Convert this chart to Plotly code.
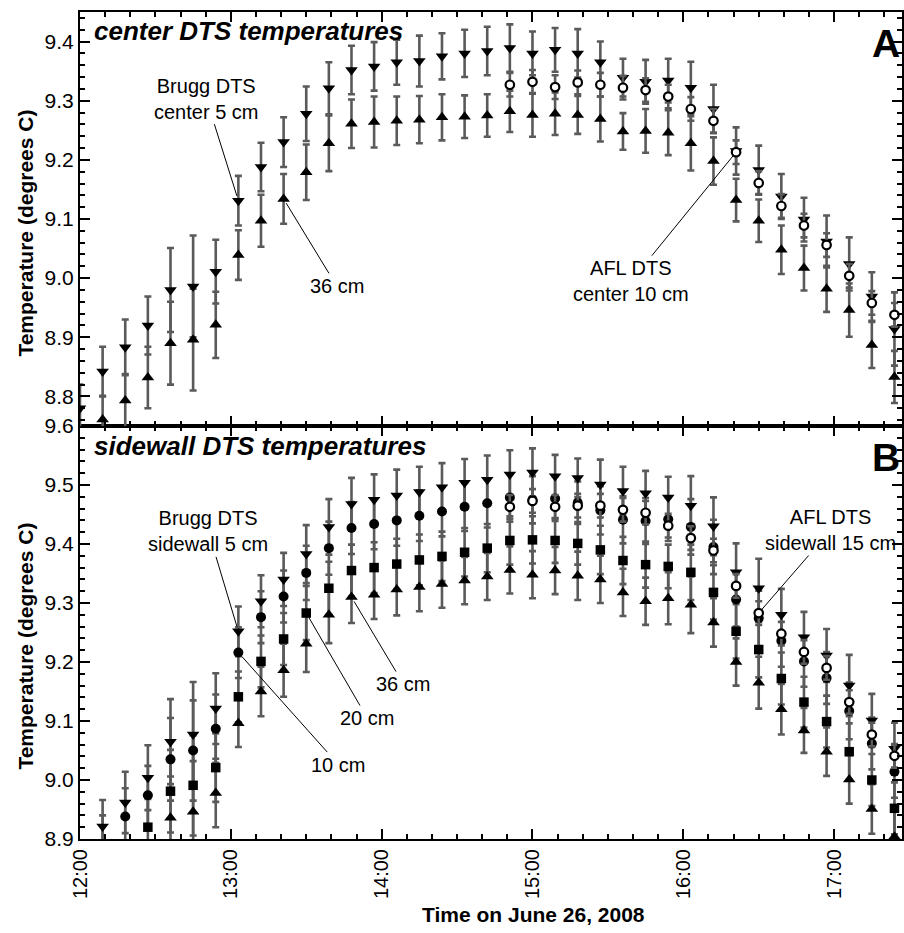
import plotly.graph_objects as go

times = ["12:00", "12:09", "12:18", "12:27", "12:36", "12:45", "12:54", "13:03", "13:12",
         "13:21", "13:30", "13:39", "13:48", "13:57", "14:06", "14:15", "14:24", "14:33",
         "14:42", "14:51", "15:00", "15:09", "15:18", "15:27", "15:36", "15:45", "15:54",
         "16:03", "16:12", "16:21", "16:30", "16:39", "16:48", "16:57", "17:06", "17:15", "17:24"]

# ---- Panel A: center DTS temperatures ----
center_5cm = [8.780, 8.842, 8.883, 8.920, 8.980, 8.986, 9.011, 9.131, 9.188, 9.230, 9.278, 9.321,
              9.352, 9.358, 9.365, 9.367, 9.375, 9.380, 9.384, 9.389, 9.380, 9.386, 9.380, 9.365,
              9.339, 9.332, 9.334, 9.322, 9.286, 9.215, 9.183, 9.138, 9.099, 9.062, 9.024, 8.969, 8.914]
center_5cm_err = [0.040, 0.042, 0.047, 0.049, 0.071, 0.086, 0.054, 0.042, 0.041, 0.042, 0.046, 0.044,
                  0.041, 0.041, 0.038, 0.043, 0.039, 0.040, 0.041, 0.040, 0.037, 0.037, 0.041, 0.035,
                  0.032, 0.037, 0.037, 0.044, 0.041, 0.040, 0.041, 0.038, 0.037, 0.044, 0.045, 0.041, 0.062]
center_36cm = [None, 8.761, 8.793, 8.832, 8.890, 8.896, 8.921, 9.039, 9.097, 9.134, 9.179, 9.228,
               9.261, 9.264, 9.266, 9.268, 9.272, 9.273, 9.275, 9.282, 9.276, 9.278, 9.276, 9.269,
               9.248, 9.249, 9.246, 9.228, 9.198, 9.132, 9.097, 9.048, 9.017, 8.982, 8.946, 8.887, 8.833]
center_36cm_err = [0.040, 0.040, 0.045, 0.052, 0.070, 0.086, 0.056, 0.042, 0.044, 0.042, 0.047, 0.047,
                   0.041, 0.043, 0.041, 0.040, 0.039, 0.036, 0.036, 0.035, 0.037, 0.036, 0.032, 0.038,
                   0.031, 0.037, 0.038, 0.046, 0.040, 0.036, 0.036, 0.041, 0.038, 0.039, 0.045, 0.039, 0.044]
afl_center_10cm = [None] * 19 + [9.327, 9.332, 9.323, 9.331, 9.327, 9.322, 9.318, 9.307, 9.286,
                                 9.266, 9.213, 9.161, 9.122, 9.089, 9.056, 9.004, 8.958, 8.938]

# ---- Panel B: sidewall DTS temperatures ----
side_5cm = [None, 8.921, 8.962, 9.004, 9.065, 9.077, 9.121, 9.252, 9.303, 9.340, 9.383, 9.429,
            9.468, 9.475, 9.482, 9.488, 9.496, 9.504, 9.509, 9.518, 9.521, 9.515, 9.512, 9.501,
            9.490, 9.486, 9.479, 9.465, 9.430, 9.352, 9.325, 9.280, 9.242, 9.211, 9.160, 9.101, 9.053]
side_5cm_err = [0.040, 0.045, 0.052, 0.055, 0.072, 0.089, 0.060, 0.042, 0.044, 0.045, 0.049, 0.047,
                0.044, 0.043, 0.044, 0.043, 0.041, 0.040, 0.041, 0.041, 0.041, 0.036, 0.033, 0.042,
                0.041, 0.038, 0.035, 0.050, 0.049, 0.049, 0.050, 0.044, 0.043, 0.045, 0.052, 0.045, 0.044]
side_10cm = [None, 8.890, 8.938, 8.974, 9.035, 9.050, 9.087, 9.216, 9.276, 9.311, 9.351, 9.393,
             9.427, 9.434, 9.440, 9.448, 9.455, 9.463, 9.469, 9.479, 9.475, 9.477, 9.470, 9.457,
             9.441, 9.439, 9.442, 9.429, 9.395, 9.306, 9.274, 9.236, 9.201, 9.173, 9.117, 9.062, 9.014]
side_10cm_err = [0.045, 0.050, 0.048, 0.050, 0.070, 0.085, 0.058, 0.043, 0.044, 0.044, 0.046, 0.045,
                 0.044, 0.043, 0.043, 0.043, 0.042, 0.041, 0.041, 0.041, 0.040, 0.038, 0.036, 0.041,
                 0.040, 0.039, 0.037, 0.047, 0.046, 0.046, 0.047, 0.044, 0.043, 0.044, 0.048, 0.044, 0.044]
side_20cm = [None, None, None, 8.920, 8.981, 8.991, 9.021, 9.141, 9.201, 9.239, 9.283, 9.325,
             9.355, 9.360, 9.366, 9.373, 9.379, 9.386, 9.393, 9.406, 9.407, 9.406, 9.401, 9.390,
             9.372, 9.365, 9.362, 9.352, 9.318, 9.252, 9.221, 9.172, 9.132, 9.099, 9.048, 9.000, 8.952]
side_20cm_err = [0.045, 0.050, 0.048, 0.048, 0.070, 0.085, 0.058, 0.043, 0.044, 0.044, 0.046, 0.045,
                 0.044, 0.043, 0.043, 0.043, 0.042, 0.041, 0.041, 0.041, 0.040, 0.038, 0.036, 0.041,
                 0.040, 0.039, 0.037, 0.047, 0.046, 0.046, 0.047, 0.044, 0.043, 0.044, 0.048, 0.044, 0.044]
side_36cm = [None, None, None, None, 8.936, 8.946, 8.978, 9.096, 9.150, 9.186, 9.231, 9.280,
             9.310, 9.314, 9.323, 9.327, 9.332, 9.338, 9.345, 9.356, 9.348, 9.355, 9.346, 9.340,
             9.318, 9.303, 9.308, 9.297, 9.267, 9.200, 9.165, 9.120, 9.084, 9.048, 9.001, 8.951, 8.904]
side_36cm_err = [0.045, 0.045, 0.045, 0.045, 0.070, 0.086, 0.058, 0.040, 0.042, 0.045, 0.048, 0.048,
                 0.044, 0.041, 0.044, 0.041, 0.040, 0.040, 0.040, 0.040, 0.040, 0.040, 0.041, 0.040,
                 0.040, 0.040, 0.044, 0.048, 0.041, 0.040, 0.044, 0.043, 0.038, 0.041, 0.041, 0.042, 0.045]
afl_side_15cm = [None] * 19 + [9.463, 9.473, 9.463, 9.465, 9.465, 9.458, 9.453, 9.431, 9.410,
                               9.389, 9.329, 9.283, 9.248, 9.217, 9.190, 9.132, 9.077, 9.041]
afl_err = 0.02

x = ["2008-06-26 " + t for t in times]

FONT = "Liberation Sans, Arial, Helvetica, sans-serif"
BAR = "rgb(90,90,90)"

fig = go.Figure()


def bars(y, err, xa, ya):
    if isinstance(err, (list, tuple)):
        ey = dict(type="data", array=err, color=BAR, thickness=2.6, width=3.5)
    else:
        ey = dict(type="constant", value=err, color=BAR, thickness=2.6, width=3.5)
    fig.add_trace(go.Scatter(
        x=x, y=y, mode="markers", xaxis=xa, yaxis=ya, showlegend=False,
        marker=dict(size=1, color="rgba(0,0,0,0)"), error_y=ey, hoverinfo="skip"))


def marks(y, symbol, size, xa, ya, fill="black", lw=0):
    fig.add_trace(go.Scatter(
        x=x, y=y, mode="markers", xaxis=xa, yaxis=ya, showlegend=False,
        marker=dict(symbol=symbol, size=size, color=fill,
                    line=dict(color="black", width=lw))))


# top panel: error bars first, then markers
bars(center_36cm, center_36cm_err, "x2", "y2")
bars(center_5cm, center_5cm_err, "x2", "y2")
marks(center_36cm, "triangle-up", 11, "x2", "y2")
marks(center_5cm, "triangle-down", 11, "x2", "y2")
bars(afl_center_10cm, afl_err, "x2", "y2")
marks(afl_center_10cm, "circle", 8.5, "x2", "y2", fill="white", lw=2.2)

# bottom panel
bars(side_36cm, side_36cm_err, "x", "y")
bars(side_20cm, side_20cm_err, "x", "y")
bars(side_10cm, side_10cm_err, "x", "y")
bars(side_5cm, side_5cm_err, "x", "y")
marks(side_36cm, "triangle-up", 11, "x", "y")
marks(side_20cm, "square", 9.5, "x", "y")
marks(side_10cm, "circle", 10, "x", "y")
marks(side_5cm, "triangle-down", 11, "x", "y")
bars(afl_side_15cm, afl_err, "x", "y")
marks(afl_side_15cm, "circle", 8.5, "x", "y", fill="white", lw=2.2)

xcommon = dict(
    type="date", range=["2008-06-26 12:00", "2008-06-26 17:27"],
    tick0="2008-06-26 12:00", dtick=3600000, tickformat="%H:%M", tickangle=-90,
    ticks="inside", ticklen=10, tickwidth=1.5, tickcolor="black",
    showline=True, linewidth=2, linecolor="black", mirror="ticks",
    showgrid=False, zeroline=False,
    minor=dict(ticks="inside", ticklen=5, tickwidth=1.5, tickcolor="black",
               tick0="2008-06-26 12:00", dtick=600000, showgrid=False),
    tickfont=dict(family=FONT, size=20, color="black"),
)
ycommon = dict(
    dtick=0.1, tickformat=".1f",
    ticks="inside", ticklen=10, tickwidth=1.5, tickcolor="black",
    showline=True, linewidth=2, linecolor="black", mirror="ticks",
    showgrid=False, zeroline=False,
    minor=dict(ticks="inside", ticklen=5, tickwidth=1.5, tickcolor="black",
               dtick=0.02, showgrid=False),
    tickfont=dict(family=FONT, size=21, color="black"),
)
split = 414 / 829

fig.update_layout(
    width=904, height=933,
    margin=dict(l=80, r=0, t=10, b=94),
    paper_bgcolor="white", plot_bgcolor="white",
    xaxis=dict(xcommon, domain=[0, 1], anchor="y"),
    xaxis2=dict(xcommon, domain=[0, 1], anchor="y2", matches="x", showticklabels=False),
    yaxis=dict(ycommon, domain=[0, split], anchor="x", range=[8.9, 9.6], tick0=8.9),
    yaxis2=dict(ycommon, domain=[split, 1], anchor="x2", range=[8.75, 9.45], tick0=8.8),
    font=dict(family=FONT, color="black"),
)

ann = []
LAB = dict(family=FONT, size=20, color="black")


def pointer(text, xi, yv, ax, ay, xr, yr):
    ann.append(dict(text=text, x=x[xi], y=yv, xref=xr, yref=yr, ax=ax, ay=ay,
                    showarrow=True, arrowhead=0, arrowwidth=1, arrowcolor="black",
                    standoff=5, font=LAB, align="center"))


pointer("Brugg DTS<br>center 5 cm", 7, center_5cm[7], -32, -102, "x2", "y2")
pointer("36 cm", 9, center_36cm[9], 53, 87, "x2", "y2")
pointer("AFL DTS<br>center 10 cm", 29, afl_center_10cm[29], -105, 129, "x2", "y2")
pointer("Brugg DTS<br>sidewall 5 cm", 7, side_5cm[7], -30, -100, "x", "y")
pointer("10 cm", 7, side_10cm[7], 100, 112, "x", "y")
pointer("20 cm", 10, side_20cm[10], 61, 105, "x", "y")
pointer("36 cm", 12, side_36cm[12], 52, 87, "x", "y")
pointer("AFL DTS<br>sidewall 15 cm", 30, afl_side_15cm[30], 72, -83, "x", "y")


def py(pix):
    return (839 - pix) / 829


def px(pix):
    return (pix - 80) / 824


TITLE = dict(family=FONT, size=26, color="black")
ann.append(dict(text="<b><i>center DTS temperatures</i></b>", x=px(92), y=py(29), xref="paper",
                yref="paper", xanchor="left", yanchor="middle", showarrow=False, font=TITLE))
ann.append(dict(text="<b><i>sidewall DTS temperatures</i></b>", x=px(92), y=py(445), xref="paper",
                yref="paper", xanchor="left", yanchor="middle", showarrow=False, font=TITLE))
BIG = dict(family=FONT, size=39, color="black")
ann.append(dict(text="<b>A</b>", x=1, y=py(42), xref="paper", yref="paper", xanchor="right",
                yanchor="middle", xshift=0, showarrow=False, font=BIG))
ann.append(dict(text="<b>B</b>", x=1, y=py(457), xref="paper", yref="paper", xanchor="right",
                yanchor="middle", xshift=0, showarrow=False, font=BIG))
AX = dict(family=FONT, size=21, color="black")
ann.append(dict(text="<b>Temperature (degrees C)</b>", x=px(25), y=py(232), xref="paper",
                yref="paper", textangle=-90, xanchor="center", yanchor="middle",
                showarrow=False, font=AX))
ann.append(dict(text="<b>Temperature (degrees C)</b>", x=px(25), y=py(646), xref="paper",
                yref="paper", textangle=-90, xanchor="center", yanchor="middle",
                showarrow=False, font=AX))
ann.append(dict(text="<b>Time on June 26, 2008</b>", x=px(535), y=py(915), xref="paper",
                yref="paper", xanchor="center", yanchor="middle", showarrow=False, font=AX))

fig.update_layout(annotations=ann)
fig.write_html("out.html", config={"displayModeBar": False},
               post_script="document.body.style.margin='0';document.body.style.overflow='hidden';")
